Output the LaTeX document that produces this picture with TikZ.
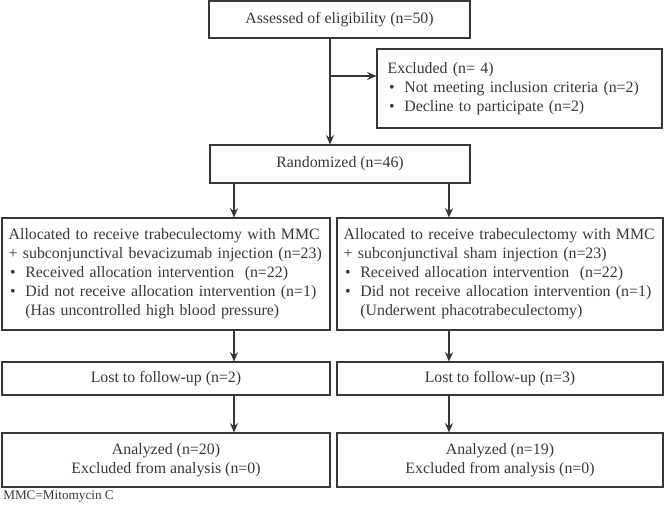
\documentclass[tikz,border=0pt]{standalone}
\usepackage{fontspec}
\setmainfont{Liberation Serif}
\usetikzlibrary{arrows.meta}
\usetikzlibrary{positioning}
\definecolor{ink}{RGB}{55,55,55}
\newcommand{\bitem}{\makebox[12.5pt][l]{\hspace{1pt}\textbullet}}

\begin{document}
\begin{tikzpicture}[x=0.75pt, y=-0.75pt,
	box/.style={draw=ink, line width=0.8pt, text=ink, inner sep=0pt, font=\fontsize{11.9}{14.3}\selectfont},
	listbox/.style={box, align=left, inner xsep=5pt},
	flow/.style={draw=ink, line width=0.8pt, -{Stealth[length=7pt, width=6pt]}}]
		\useasboundingbox (0,0) rectangle (666,506);

		\path
		(339.5,19.5) node[box, minimum width=195.75pt, minimum height=27.75pt] (assess) {Assessed of eligibility (n=50)}
		(519.5,88.5) node[listbox, inner xsep=8pt, text width=197.75pt, minimum height=59.25pt] (excl)
			{Excluded (n= 4)\\\bitem Not meeting inclusion criteria (n=2)\\\bitem Decline to participate (n=2)}
		(340,164) node[box, minimum width=195pt, minimum height=28.5pt] (rand) {Randomized (n=46)}
		(166,274) node[listbox, text width=236pt, minimum height=84pt] (allocL)
			{Allocated to receive trabeculectomy with MMC\\+ subconjunctival bevacizumab injection (n=23)\\\bitem Received allocation intervention\ \ (n=22)\\\bitem Did not receive allocation intervention (n=1)\\\hspace*{12.5pt}(Has uncontrolled high blood pressure)}
		(500,274) node[listbox, text width=234.5pt, minimum height=84pt] (allocR)
			{Allocated to receive trabeculectomy with MMC\\+ subconjunctival sham injection (n=23)\\\bitem Received allocation intervention\ \ (n=22)\\\bitem Did not receive allocation intervention (n=1)\\\hspace*{12.5pt}(Underwent phacotrabeculectomy)}
		(166,378.5) node[box, minimum width=246pt, minimum height=24.75pt] (lostL) {Lost to follow-up (n=2)}
		(500,378.5) node[box, minimum width=244.5pt, minimum height=24.75pt] (lostR) {Lost to follow-up (n=3)}
		(166,460) node[box, align=center, minimum width=246pt, minimum height=40.5pt] (anaL) {Analyzed (n=20)\\Excluded from analysis (n=0)}
		(500,460) node[box, align=center, minimum width=244.5pt, minimum height=40.5pt] (anaR) {Analyzed (n=19)\\Excluded from analysis (n=0)}
		(3,497) node[anchor=west, inner sep=0pt, text=ink, font=\fontsize{9.9}{12}\selectfont] (note) {MMC=Mitomycin C};

		% arrow columns
		\coordinate (spine) at (330,0);
		\coordinate (branch) at (330,76);
		\coordinate (colL) at (234,0);
		\coordinate (colR) at (449,0);

		\draw[flow] (assess.south -| spine) -- (rand.north -| spine);
		\draw[flow] (branch) -- (excl.west |- branch);
		\draw[flow] (rand.south -| colL) -- (allocL.north -| colL);
		\draw[flow] (rand.south -| colR) -- (allocR.north -| colR);
		\draw[flow] (allocL.south -| colL) -- (lostL.north -| colL);
		\draw[flow] (allocR.south -| colR) -- (lostR.north -| colR);
		\draw[flow] (lostL.south -| colL) -- (anaL.north -| colL);
		\draw[flow] (lostR.south -| colR) -- (anaR.north -| colR);
	\end{tikzpicture}
\end{document}
